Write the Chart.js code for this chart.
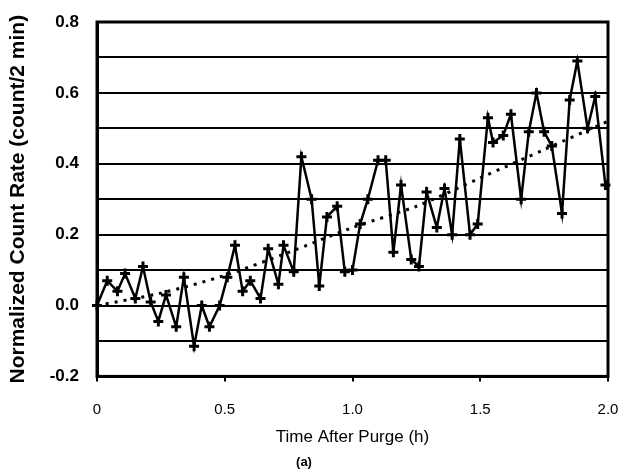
<!doctype html>
<html>
<head>
    <title>Normalized Count Rate</title>
    <script src="https://cdn.jsdelivr.net/npm/chart.js@4.4.1/dist/chart.umd.min.js"></script>
    <style>
    html, body { margin: 0; padding: 0; background: #fff; }
    #wrap { width: 626px; height: 474px; }
    </style>
</head>
<body>
    <div id="wrap">
        <canvas id="canvas" width="626" height="474"></canvas>
    </div>

    <script>
    // time after purge (h)
    var times = [0.00, 0.04, 0.08, 0.11, 0.15, 0.18, 0.21, 0.24, 0.27, 0.31,
                 0.34, 0.38, 0.41, 0.44, 0.48, 0.51, 0.54, 0.57, 0.60, 0.64,
                 0.67, 0.71, 0.73, 0.77, 0.80, 0.84, 0.87, 0.90, 0.94, 0.97,
                 1.00, 1.03, 1.06, 1.10, 1.13, 1.16, 1.19, 1.23, 1.26, 1.29,
                 1.33, 1.36, 1.39, 1.42, 1.46, 1.49, 1.53, 1.55, 1.59, 1.62,
                 1.66, 1.69, 1.72, 1.75, 1.78, 1.82, 1.85, 1.88, 1.92, 1.95, 1.99];
    // normalized count rate (count/2 min)
    var countRate = [0.00, 0.07, 0.04, 0.09, 0.02, 0.11, 0.01, -0.045, 0.03, -0.06,
                     0.08, -0.115, 0.00, -0.06, 0.00, 0.08, 0.17, 0.04, 0.07, 0.02,
                     0.16, 0.06, 0.17, 0.095, 0.42, 0.30, 0.055, 0.25, 0.28, 0.095,
                     0.10, 0.23, 0.30, 0.41, 0.41, 0.15, 0.34, 0.13, 0.11, 0.32,
                     0.22, 0.33, 0.20, 0.47, 0.20, 0.23, 0.53, 0.46, 0.48, 0.54,
                     0.30, 0.49, 0.60, 0.49, 0.45, 0.26, 0.58, 0.69, 0.50, 0.59, 0.34];
    // dotted trend curve
    var trendTimes = [0, 0.25, 0.5, 0.75, 1.0, 1.25, 1.5, 1.75, 2.0];
    var trendRate = [0, 0.035, 0.085, 0.15, 0.22, 0.28, 0.36, 0.44, 0.52];

    var yLabelEvery = 2;   // label every other 0.1 grid line

    var frame = {
        id: 'frame',
        afterDatasetsDraw: function(chart) {
            var a = chart.chartArea, ctx = chart.ctx;
            ctx.save();
            ctx.strokeStyle = '#000';
            ctx.lineWidth = 3;
            ctx.strokeRect(a.left, a.top, a.right - a.left, a.bottom - a.top);
            ctx.restore();
        }
    };

    function pairs(xs, ys) {
        return xs.map(function(x, i) { return {x: x, y: ys[i]}; });
    }

    var config = {
        type: 'line',
        data: {
            datasets: [{
                label: 'count rate',
                data: pairs(times, countRate),
                borderColor: '#000',
                backgroundColor: '#000',
                borderWidth: 2.5,
                pointStyle: 'cross',
                pointRadius: 5,
                pointBorderWidth: 3,
                tension: 0,
                clip: false
            }, {
                label: 'trend',
                data: pairs(trendTimes, trendRate),
                borderColor: '#000',
                borderWidth: 3,
                borderDash: [3, 6],
                pointRadius: 0,
                tension: 0.3
            }]
        },
        options: {
            responsive: false,
            animation: false,
            layout: { autoPadding: false, padding: { left: 0, right: 18, top: 22, bottom: 4 } },
            plugins: {
                legend: { display: false },
                tooltip: { enabled: false },
                title: {
                    display: true,
                    position: 'bottom',
                    text: '(a)',
                    color: '#000',
                    font: { family: 'Liberation Sans', size: 13 },
                    padding: { top: 2, bottom: 0 }
                }
            },
            scales: {
                x: {
                    type: 'linear',
                    min: 0,
                    max: 2,
                    afterFit: function(s) {
                        // tick padding would otherwise be added to the side gaps
                        s.height = 76;
                        s.paddingLeft = 6;
                        s.paddingRight = 12;
                    },
                    border: { color: '#000', width: 3 },
                    grid: { drawOnChartArea: false, drawTicks: true, tickLength: 5, color: '#000', lineWidth: 2 },
                    ticks: {
                        stepSize: 0.5,
                        padding: 19,
                        color: '#000',
                        font: { family: 'Liberation Sans', size: 15 },
                        callback: function(v) { return v === 0 ? '0' : v.toFixed(1); }
                    },
                    title: {
                        display: true,
                        text: 'Time After Purge (h)',
                        color: '#000',
                        font: { family: 'Liberation Sans', size: 17 },
                        padding: { top: 0, bottom: 5 }
                    }
                },
                y: {
                    min: -0.2,
                    max: 0.8,
                    afterFit: function(s) {
                        s.width = 97;
                        s.paddingTop = 10;
                        s.paddingBottom = 10;
                    },
                    border: { color: '#000', width: 3 },
                    grid: { color: '#000', lineWidth: 2, drawTicks: false },
                    ticks: {
                        stepSize: 0.1,
                        padding: 18,
                        color: '#000',
                        font: { family: 'Liberation Sans', size: 17, weight: 'bold' },
                        callback: function(v, i) { return i % yLabelEvery === 0 ? v.toFixed(1) : ''; }
                    },
                    title: {
                        display: true,
                        text: 'Normalized Count Rate (count/2 min)',
                        color: '#000',
                        font: { family: 'Liberation Sans', size: 21, weight: 'bold' },
                        padding: { top: 6, bottom: 0 }
                    }
                }
            }
        },
        plugins: [frame]
    };

    window.onload = function() {
        window.myChart = new Chart(document.getElementById('canvas'), config);
    };
    </script>
</body>
</html>
